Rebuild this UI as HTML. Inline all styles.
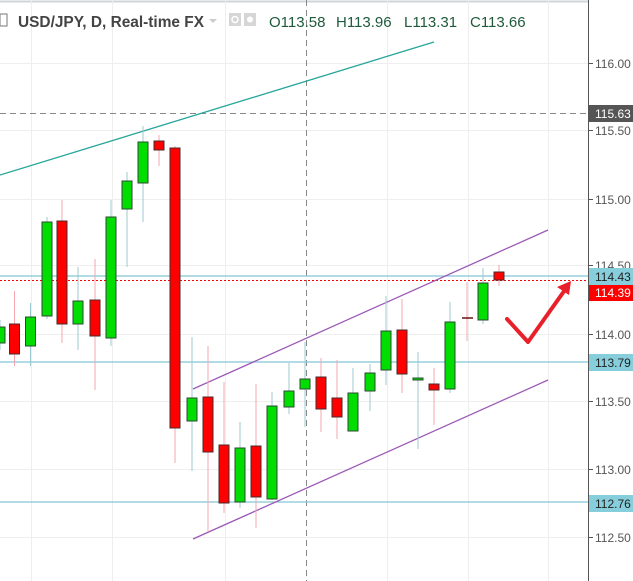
<!DOCTYPE html>
<html><head><meta charset="utf-8"><style>
body{margin:0;background:#fff;}
svg{display:block;font-family:"Liberation Sans",sans-serif;}
</style></head><body>
<svg width="633" height="581" viewBox="0 0 633 581">
<rect width="633" height="581" fill="#fff"/>
<line x1="0" y1="1.5" x2="633" y2="1.5" stroke="#d0d3d7" stroke-width="2"/>
<g stroke="#eeeeee" stroke-width="1">
<line x1="31.5" y1="0" x2="31.5" y2="581"/><line x1="112.5" y1="0" x2="112.5" y2="581"/>
<line x1="225.5" y1="0" x2="225.5" y2="581"/><line x1="387.5" y1="0" x2="387.5" y2="581"/>
<line x1="468.5" y1="0" x2="468.5" y2="581"/><line x1="548.5" y1="0" x2="548.5" y2="581"/>
<line x1="0" y1="63.5" x2="588" y2="63.5"/><line x1="0" y1="130.5" x2="588" y2="130.5"/>
<line x1="0" y1="199.5" x2="588" y2="199.5"/><line x1="0" y1="265.5" x2="588" y2="265.5"/>
<line x1="0" y1="334.5" x2="588" y2="334.5"/><line x1="0" y1="401.5" x2="588" y2="401.5"/>
<line x1="0" y1="469.5" x2="588" y2="469.5"/><line x1="0" y1="537.5" x2="588" y2="537.5"/>
</g>
<line x1="306.5" y1="0" x2="306.5" y2="581" stroke="#888" stroke-dasharray="6,4"/>
<line x1="0" y1="113.5" x2="588" y2="113.5" stroke="#888" stroke-dasharray="6,4"/>
<g stroke="#82c8d6" stroke-width="1.3">
<line x1="0" y1="276" x2="588" y2="276"/><line x1="0" y1="362" x2="588" y2="362"/><line x1="0" y1="502" x2="588" y2="502"/>
</g>
<line x1="0" y1="280.5" x2="588" y2="280.5" stroke="#f00" stroke-dasharray="2,2"/>
<line x1="0" y1="175" x2="434" y2="42" stroke="#26a69a" stroke-width="1.3"/>
<line x1="193" y1="389" x2="548" y2="230" stroke="#9b59b6" stroke-width="1.3"/>
<line x1="193" y1="539" x2="548" y2="380" stroke="#9b59b6" stroke-width="1.3"/>
<g>
<line x1="0" y1="320" x2="0" y2="350" stroke="#9cc9cf"/><rect x="-5" y="327" width="10" height="16" fill="#00dd00" stroke="#2b4a33"/>
<line x1="14.5" y1="291" x2="14.5" y2="366" stroke="#f4a7b0"/><rect x="9.5" y="324" width="10" height="30" fill="#f00" stroke="#4a2b2b"/>
<line x1="30.5" y1="303" x2="30.5" y2="366" stroke="#9cc9cf"/><rect x="25.5" y="317" width="10" height="29" fill="#00dd00" stroke="#2b4a33"/>
<line x1="47" y1="217" x2="47" y2="319" stroke="#9cc9cf"/><rect x="42" y="222" width="10" height="94" fill="#00dd00" stroke="#2b4a33"/>
<line x1="62" y1="200" x2="62" y2="343" stroke="#f4a7b0"/><rect x="57" y="221" width="10" height="103" fill="#f00" stroke="#4a2b2b"/>
<line x1="78" y1="267" x2="78" y2="350" stroke="#9cc9cf"/><rect x="73" y="301" width="10" height="23" fill="#00dd00" stroke="#2b4a33"/>
<line x1="95" y1="259" x2="95" y2="390" stroke="#f4a7b0"/><rect x="90" y="300" width="10" height="36" fill="#f00" stroke="#4a2b2b"/>
<line x1="111" y1="200" x2="111" y2="346" stroke="#9cc9cf"/><rect x="106" y="217" width="10" height="121" fill="#00dd00" stroke="#2b4a33"/>
<line x1="127" y1="172" x2="127" y2="267" stroke="#9cc9cf"/><rect x="122" y="181" width="10" height="28" fill="#00dd00" stroke="#2b4a33"/>
<line x1="143" y1="126" x2="143" y2="222" stroke="#9cc9cf"/><rect x="138" y="142" width="10" height="41" fill="#00dd00" stroke="#2b4a33"/>
<line x1="159" y1="135" x2="159" y2="166" stroke="#f4a7b0"/><rect x="154" y="141" width="10" height="9" fill="#f00" stroke="#4a2b2b"/>
<line x1="175" y1="146" x2="175" y2="463" stroke="#f4a7b0"/><rect x="170" y="148" width="10" height="280" fill="#f00" stroke="#4a2b2b"/>
<line x1="192" y1="337" x2="192" y2="471" stroke="#9cc9cf"/><rect x="187" y="398" width="10" height="23" fill="#00dd00" stroke="#2b4a33"/>
<line x1="208" y1="346" x2="208" y2="532" stroke="#f4a7b0"/><rect x="203" y="397" width="10" height="55" fill="#f00" stroke="#4a2b2b"/>
<line x1="224" y1="382" x2="224" y2="513" stroke="#f4a7b0"/><rect x="219" y="445" width="10" height="58" fill="#f00" stroke="#4a2b2b"/>
<line x1="240" y1="422" x2="240" y2="508" stroke="#9cc9cf"/><rect x="235" y="448" width="10" height="54" fill="#00dd00" stroke="#2b4a33"/>
<line x1="256" y1="384" x2="256" y2="528" stroke="#f4a7b0"/><rect x="251" y="446" width="10" height="51" fill="#f00" stroke="#4a2b2b"/>
<line x1="272" y1="392" x2="272" y2="500" stroke="#9cc9cf"/><rect x="267" y="406" width="10" height="93" fill="#00dd00" stroke="#2b4a33"/>
<line x1="289" y1="363" x2="289" y2="414" stroke="#9cc9cf"/><rect x="284" y="391" width="10" height="16" fill="#00dd00" stroke="#2b4a33"/>
<line x1="305" y1="342" x2="305" y2="427" stroke="#9cc9cf"/><rect x="300" y="379" width="10" height="10" fill="#00dd00" stroke="#2b4a33"/>
<line x1="321" y1="358" x2="321" y2="432" stroke="#f4a7b0"/><rect x="316" y="377" width="10" height="32" fill="#f00" stroke="#4a2b2b"/>
<line x1="337" y1="360" x2="337" y2="439" stroke="#f4a7b0"/><rect x="332" y="398" width="10" height="19" fill="#f00" stroke="#4a2b2b"/>
<line x1="353" y1="368" x2="353" y2="431" stroke="#9cc9cf"/><rect x="348" y="393" width="10" height="38" fill="#00dd00" stroke="#2b4a33"/>
<line x1="370" y1="364" x2="370" y2="411" stroke="#9cc9cf"/><rect x="365" y="373" width="10" height="18" fill="#00dd00" stroke="#2b4a33"/>
<line x1="386" y1="296" x2="386" y2="385" stroke="#9cc9cf"/><rect x="381" y="331" width="10" height="39" fill="#00dd00" stroke="#2b4a33"/>
<line x1="402" y1="299" x2="402" y2="393" stroke="#f4a7b0"/><rect x="397" y="330" width="10" height="44" fill="#f00" stroke="#4a2b2b"/>
<line x1="418" y1="352" x2="418" y2="449" stroke="#9cc9cf"/><rect x="413" y="378" width="10" height="2" fill="#00dd00" stroke="#2b4a33"/>
<line x1="434" y1="368" x2="434" y2="425" stroke="#f4a7b0"/><rect x="429" y="384" width="10" height="6" fill="#f00" stroke="#4a2b2b"/>
<line x1="450" y1="302" x2="450" y2="393" stroke="#9cc9cf"/><rect x="445" y="322" width="10" height="67" fill="#00dd00" stroke="#2b4a33"/>
<line x1="467" y1="282" x2="467" y2="341" stroke="#f4a7b0"/><line x1="462" y1="318" x2="473" y2="318" stroke="#6b1010" stroke-width="1.5"/>
<line x1="483" y1="268" x2="483" y2="324" stroke="#9cc9cf"/><rect x="478" y="283" width="10" height="37" fill="#00dd00" stroke="#2b4a33"/>
<line x1="499" y1="265" x2="499" y2="286" stroke="#f4a7b0"/><rect x="494" y="272" width="10" height="8" fill="#f00" stroke="#4a2b2b"/>
</g>
<polyline points="507,319 528,342 567,287" fill="none" stroke="#e8202a" stroke-width="4" stroke-linecap="round" stroke-linejoin="round"/>
<polygon points="571,281 557,287 569,295" fill="#e8202a"/>
<rect x="589" y="0" width="44" height="581" fill="#fff"/>
<line x1="588.5" y1="0" x2="588.5" y2="581" stroke="#555"/>
<g stroke="#555">
<line x1="589" y1="63.5" x2="593" y2="63.5"/><line x1="589" y1="130.5" x2="593" y2="130.5"/><line x1="589" y1="199.5" x2="593" y2="199.5"/>
<line x1="589" y1="265.5" x2="593" y2="265.5"/><line x1="589" y1="334.5" x2="593" y2="334.5"/><line x1="589" y1="401.5" x2="593" y2="401.5"/>
<line x1="589" y1="469.5" x2="593" y2="469.5"/><line x1="589" y1="537.5" x2="593" y2="537.5"/>
</g>
<g font-size="12" fill="#555">
<text x="595" y="68">116.00</text><text x="595" y="135">115.50</text><text x="595" y="204">115.00</text>
<text x="595" y="270">114.50</text><text x="595" y="339">114.00</text><text x="595" y="406">113.50</text>
<text x="595" y="474">113.00</text><text x="595" y="542">112.50</text>
</g>
<rect x="589" y="105" width="44" height="17" fill="#555"/><text x="595" y="118" font-size="12" fill="#fff">115.63</text>
<rect x="589" y="268" width="44" height="17" fill="#86cedb"/><text x="595" y="281" font-size="12" fill="#222">114.43</text>
<rect x="589" y="285" width="44" height="16" fill="#f00"/><text x="595" y="297" font-size="12" fill="#fff">114.39</text>
<rect x="589" y="354" width="44" height="17" fill="#86cedb"/><text x="595" y="367" font-size="12" fill="#222">113.79</text>
<rect x="589" y="495" width="44" height="17" fill="#86cedb"/><text x="595" y="508" font-size="12" fill="#222">112.76</text>
<rect x="0" y="14" width="7" height="12" fill="none" stroke="#777"/>
<text x="18" y="27" font-size="15.5" fill="#444" font-weight="bold" textLength="186" lengthAdjust="spacingAndGlyphs">USD/JPY, D, Real-time FX</text>
<polygon points="209,19 217,19 213,23" fill="#ccc"/>
<rect x="229" y="13" width="12" height="13" fill="#d6d6d6"/><circle cx="235" cy="19.5" r="3" fill="none" stroke="#fff" stroke-width="1.5"/>
<rect x="244" y="13" width="12" height="13" fill="#d6d6d6"/><circle cx="250" cy="19.5" r="3" fill="#fff"/>
<g font-size="15" fill="#1e5a3a">
<text x="269" y="27">O113.58</text><text x="336" y="27">H113.96</text><text x="404" y="27">L113.31</text><text x="470" y="27">C113.66</text>
</g>
</svg>
</body></html>
